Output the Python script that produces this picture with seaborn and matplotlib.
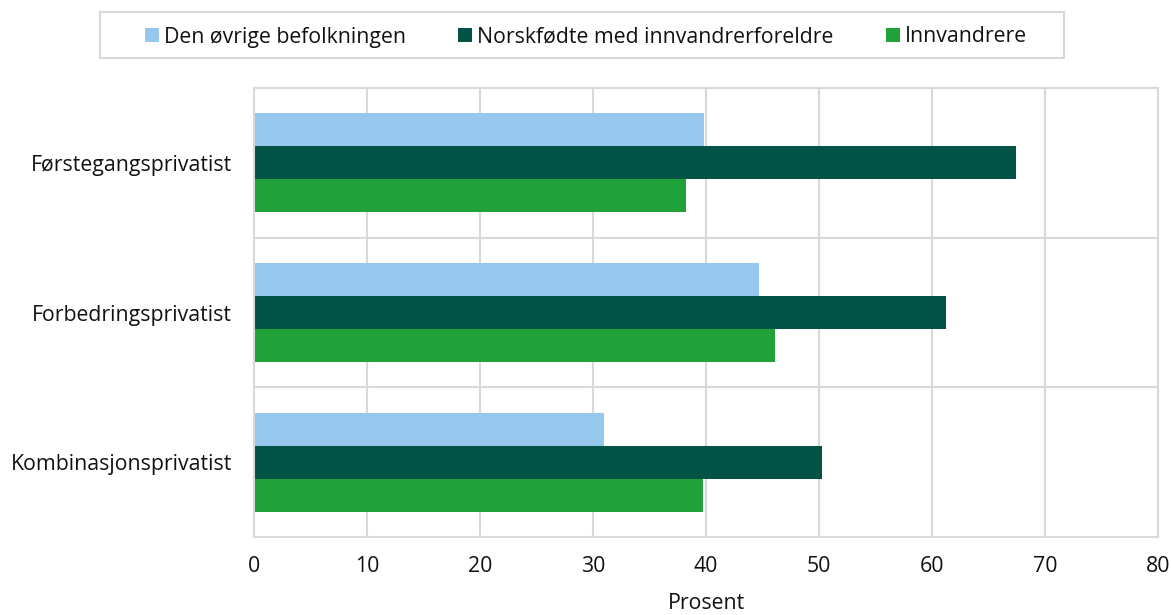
import matplotlib
matplotlib.use("Agg")
import matplotlib.pyplot as plt
from matplotlib.patches import Patch, Rectangle
import seaborn as sns
import pandas as pd

categories = ["Førstegangsprivatist", "Forbedringsprivatist", "Kombinasjonsprivatist"]
series = ["Den øvrige befolkningen", "Norskfødte med innvandrerforeldre", "Innvandrere"]
den_ovrige = [39.8, 44.7, 31.0]
norskfodte = [67.4, 61.2, 50.3]
innvandrere = [38.2, 46.1, 39.7]
colors = ["#96C7EC", "#025345", "#21A13A"]
xticks = [0, 10, 20, 30, 40, 50, 60, 70, 80]
xlabel = "Prosent"

rows = []
for s, vals in zip(series, [den_ovrige, norskfodte, innvandrere]):
    for c, v in zip(categories, vals):
        rows.append({"kategori": c, "gruppe": s, "verdi": v})
df = pd.DataFrame(rows)

sns.set_theme(style="white")
plt.rcParams["font.family"] = ["Open Sans", "DejaVu Sans"]

FS = 15.3
fig = plt.figure(figsize=(11.71, 6.15), dpi=100)
ax = fig.add_axes([254/1171, 1-537/615, (1158-254)/1171, (537-88)/615])

sns.barplot(data=df, y="kategori", x="verdi", hue="gruppe", order=categories,
            hue_order=series, palette=colors, orient="h", width=0.66,
            linewidth=0, saturation=1, legend=False, ax=ax, errorbar=None)

grid_c = "#D9D9D9"
ax.set_xlim(0, 80)
ax.set_ylim(2.5, -0.5)
ax.set_xticks(xticks)
ax.set_xticklabels([str(t) for t in xticks])
for x in xticks[1:-1]:
    ax.axvline(x, color=grid_c, lw=1.5, zorder=0)
for y in [0.5, 1.5]:
    ax.axhline(y, color=grid_c, lw=1.5, zorder=0)
for sp in ax.spines.values():
    sp.set_visible(True)
    sp.set_color(grid_c)
    sp.set_linewidth(1.5)
ax.tick_params(axis="both", length=0, labelsize=FS, colors="#111111")
ax.tick_params(axis="y", pad=16)
ax.tick_params(axis="x", pad=14)
ax.set_ylabel("")
ax.set_xlabel(xlabel, fontsize=FS, color="#111111", labelpad=11)

handles = [Patch(facecolor=c, edgecolor="none") for c in colors]
fig.legend(handles, series, loc="center", bbox_to_anchor=(586/1171, 1-37/615),
           ncol=3, frameon=False, fontsize=FS, handlelength=0.65, handleheight=0.65,
           handletextpad=0.25, columnspacing=2.45, labelcolor="#111111")
fig.patches.append(Rectangle((100/1171, 1-58/615), (1064-100)/1171, 46/615,
                             transform=fig.transFigure, fill=False,
                             edgecolor=grid_c, lw=1.5))

fig.savefig("out.png", dpi=100, facecolor="white")
